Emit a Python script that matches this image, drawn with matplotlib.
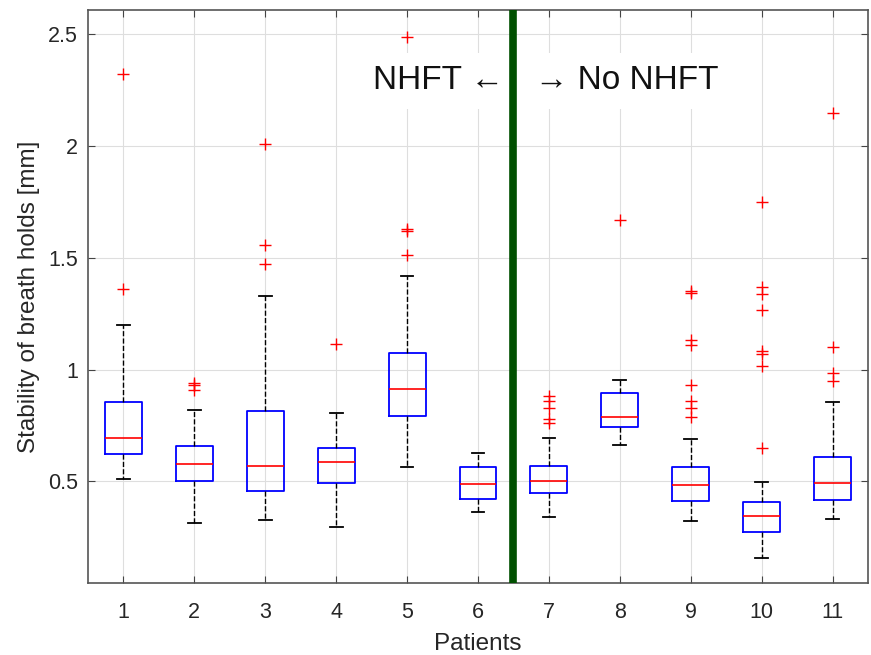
import numpy as np
import matplotlib.pyplot as plt

plt.rcParams['font.family'] = ['Liberation Sans', 'DejaVu Sans']

# Werte (pro Patient)
patients = [1, 2, 3, 4, 5, 6, 7, 8, 9, 10, 11]
q1 = [0.622, 0.500, 0.455, 0.491, 0.792, 0.421, 0.446, 0.741, 0.413, 0.275, 0.417]
med = [0.696, 0.576, 0.571, 0.585, 0.915, 0.488, 0.503, 0.786, 0.485, 0.346, 0.492]
q3 = [0.855, 0.658, 0.815, 0.650, 1.074, 0.563, 0.570, 0.893, 0.564, 0.406, 0.607]
whislo = [0.512, 0.315, 0.326, 0.295, 0.565, 0.362, 0.341, 0.661, 0.323, 0.159, 0.333]
whishi = [1.198, 0.821, 1.330, 0.804, 1.420, 0.629, 0.694, 0.952, 0.689, 0.496, 0.854]
fliers = [
    [1.36, 2.32],
    [0.91, 0.93, 0.94],
    [1.47, 1.555, 2.01],
    [1.113],
    [1.51, 1.62, 1.63, 2.485],
    [],
    [0.76, 0.78, 0.83, 0.86, 0.88],
    [1.667],
    [0.79, 0.83, 0.86, 0.93, 1.11, 1.13, 1.34, 1.35],
    [0.65, 1.015, 1.07, 1.083, 1.265, 1.339, 1.369, 1.751],
    [0.95, 0.985, 1.10, 2.145],
]
split = 6.5
ylabel = 'Stability of breath holds [mm]'
xlabel = 'Patients'

stats = []
for i in range(len(patients)):
    stats.append({'med': med[i], 'q1': q1[i], 'q3': q3[i],
                  'whislo': whislo[i], 'whishi': whishi[i],
                  'fliers': fliers[i]})

fig = plt.figure(figsize=(8.71, 6.55), dpi=100)
ax = fig.add_axes([0.101, 0.110, 0.8956, 0.8747])

ax.bxp(stats, positions=patients, widths=0.52, capwidths=0.18,
       boxprops=dict(color='#0000ff', lw=1.3),
       medianprops=dict(color='#ff0000', lw=1.2),
       whiskerprops=dict(color='black', lw=1.0, ls='--'),
       capprops=dict(color='black', lw=1.3),
       flierprops=dict(marker='+', markeredgecolor='#ff0000',
                       markersize=8, mew=1.0, ls='none'),
       zorder=3)

# Beschriftung links/rechts der Trennlinie
ax.text(split - 0.13, 2.29, 'NHFT \u2190', ha='right', va='center',
        fontsize=24, color='#111111', zorder=4,
        bbox=dict(facecolor='white', edgecolor='none', pad=9))
ax.text(split + 0.31, 2.29, '\u2192 No NHFT', ha='left', va='center',
        fontsize=24, color='#111111', zorder=4,
        bbox=dict(facecolor='white', edgecolor='none', pad=9))

# Trennlinie NHFT / kein NHFT
ax.axvline(split, color='#005000', lw=5.5, zorder=5)

ax.set_xlim(0.5, 11.5)
ax.set_ylim(0.046, 2.607)
ax.set_xticks(patients)
ax.set_xticklabels([str(p) for p in patients])
ax.set_yticks([0.5, 1, 1.5, 2, 2.5])
ax.set_yticklabels(['0.5', '1', '1.5', '2', '2.5'])

ax.grid(True, color='#dedede', lw=0.8)
ax.set_axisbelow(True)
ax.tick_params(direction='in', top=True, right=True, length=5,
               labelsize=15.5, colors='#444444', labelcolor='#262626')
ax.tick_params(axis='x', pad=14)
ax.tick_params(axis='y', pad=7)
for s in ax.spines.values():
    s.set_color('#555555')
    s.set_linewidth(1.2)

ax.set_ylabel(ylabel, fontsize=17.5, color='#262626', labelpad=6)
ax.set_xlabel(xlabel, fontsize=17.5, color='#262626', labelpad=7)

fig.savefig('out.png', dpi=100)
